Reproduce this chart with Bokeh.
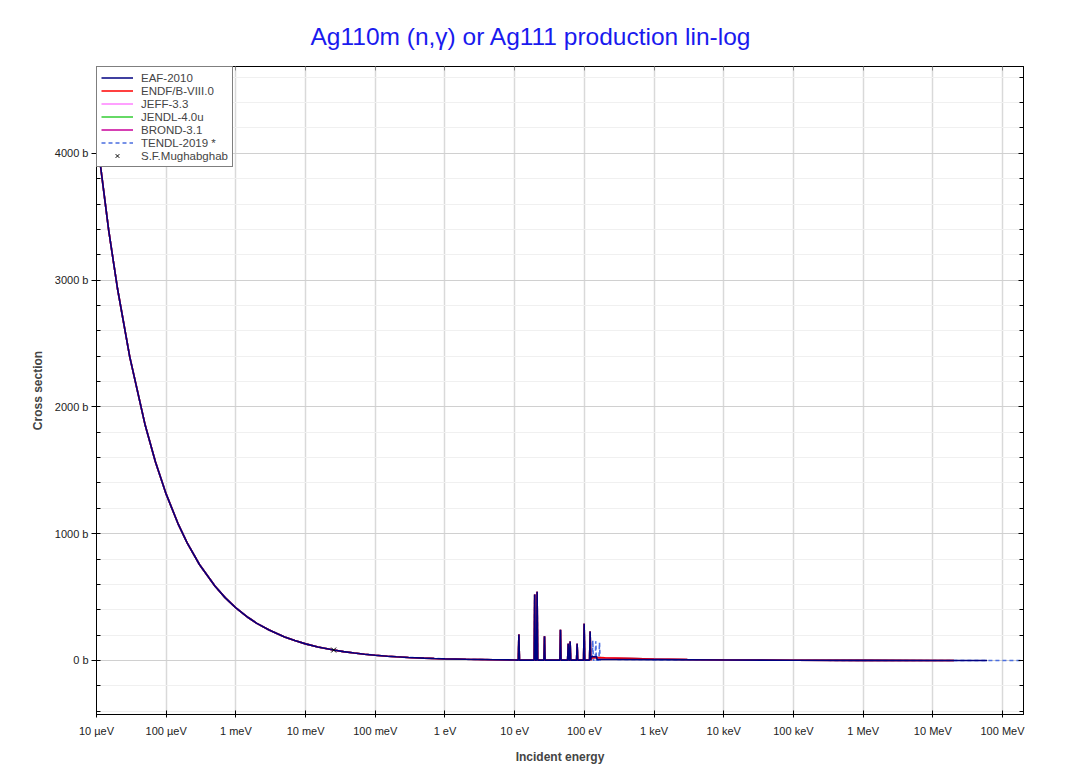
import numpy as np
from bokeh.plotting import figure
from bokeh.models import (FixedTicker, LogAxis, LinearAxis, Legend, LegendItem,
                          CustomJSTickFormatter, Range1d)
from bokeh.embed import file_html
from bokeh.resources import INLINE

# ---------------- data ----------------
# smooth 1/v region shared by all evaluations (energy in eV, cross section in b)
E_thermal = [1e-5, 1.5e-5, 2e-5, 3e-5, 5e-5, 7e-5, 1e-4, 1.5e-4, 2e-4, 3e-4, 5e-4, 7e-4,
             1e-3, 1.5e-3, 2e-3, 3e-3, 5e-3, 7e-3, 1e-2, 1.5e-2, 2.53e-2, 3.5e-2, 5e-2,
             7e-2, 0.1, 0.15, 0.2, 0.3, 0.5, 0.7, 1.0, 2.0, 5.0, 10.0]
xs_thermal = [4149, 3388, 2934, 2395, 1855, 1568, 1312, 1071, 928, 757, 587, 496,
              415, 339, 293, 240, 186, 157, 131, 107, 82.5, 70.1, 58.7,
              49.6, 41.5, 33.9, 29.3, 24.0, 18.6, 15.7, 13.1, 9.3, 5.9, 4.2]

# resolved resonances (energy eV, peak b)
res_E = [11.5, 19.4, 21.0, 26.8, 45.4, 58.6, 62.5, 78.8, 99.3, 121.0]
res_peak = [205, 520, 542, 192, 242, 132, 150, 132, 289, 229]
res_base = 3.0

# extra resonances in TENDL-2019
tendl_res_E = [132.0, 146.0, 165.0]
tendl_res_peak = [157, 152, 142]

# tails above the resolved region
E_eaf_tail = [125, 150, 152, 300, 1e3, 1e4, 1e5, 1e6, 1e7, 6e7]
xs_eaf_tail = [30, 30, 9, 8, 7, 4, 2, 0.6, 0.2, 0.1]

E_endf_tail = [130, 200, 500, 1e3, 3e3, 1e4, 3e4, 1e5, 1e6, 1e7, 2e7]
xs_endf_tail = [24, 21, 16, 12, 8, 5, 3.5, 2, 0.6, 0.2, 0.15]

E_tendl_tail = [175, 300, 1e3, 1e4, 1e5, 1e6, 1e7, 1e8, 2e8]
xs_tendl_tail = [10, 9, 7, 4, 2, 0.6, 0.2, 0.1, 0.1]

# S.F. Mughabghab thermal value
mugh_E = [0.0253]
mugh_xs = [82.5]

libs = ["EAF-2010", "ENDF/B-VIII.0", "JEFF-3.3", "JENDL-4.0u", "BROND-3.1", "TENDL-2019 *"]
colors = ["#000080", "#ff0000", "#ff80ff", "#33cc33", "#c8009a", "#4a6ee0"]

decade_labels = ["10 µeV", "100 µeV", "1 meV", "10 meV", "100 meV", "1 eV", "10 eV",
                 "100 eV", "1 keV", "10 keV", "100 keV", "1 MeV", "10 MeV", "100 MeV"]


def resonances(E, peaks, base, hw=0.008):
    xe, ye = [], []
    for e, pk in zip(E, peaks):
        xe += [e * 10 ** (-hw), e, e * 10 ** hw]
        ye += [base, pk, base]
    return xe, ye


rx, ry = resonances(res_E, res_peak, res_base)
tx, ty = resonances(tendl_res_E, tendl_res_peak, res_base)

curves = {
    "EAF-2010": (E_thermal + rx + E_eaf_tail, xs_thermal + ry + xs_eaf_tail),
    "ENDF/B-VIII.0": (E_thermal + rx + E_endf_tail, xs_thermal + ry + xs_endf_tail),
    "JEFF-3.3": (E_thermal + rx + E_endf_tail, xs_thermal + ry + xs_endf_tail),
    "JENDL-4.0u": (E_thermal + rx + E_endf_tail, xs_thermal + ry + xs_endf_tail),
    "BROND-3.1": (E_thermal + rx + E_endf_tail, xs_thermal + ry + xs_endf_tail),
    "TENDL-2019 *": (E_thermal + rx + tx + E_tendl_tail, xs_thermal + ry + ty + xs_tendl_tail),
}

# ---------------- figure ----------------
p = figure(width=1045, height=767, x_axis_type="log",
           x_range=Range1d(1e-5, 2e8), y_range=Range1d(-426, 4685),
           output_backend="svg", toolbar_location=None,
           min_border_left=96, min_border_right=22, min_border_top=66, min_border_bottom=53)

p.title.text = "Ag110m (n,γ) or Ag111 production lin-log"
p.title.align = "left"
p.title.offset = 214
p.title.text_font = "Liberation Sans"
p.title.text_font_style = "normal"
p.title.text_font_size = "24.5px"
p.title.text_color = "#1a1aee"
p.title.standoff = 34

p.outline_line_color = "black"
p.outline_line_width = 1

decades = [10.0 ** k for k in range(-5, 9)]
xt = FixedTicker(ticks=decades, minor_ticks=[])
yt = FixedTicker(ticks=[0, 1000, 2000, 3000, 4000],
                 minor_ticks=[-400, -200, 200, 400, 600, 800, 1200, 1400, 1600, 1800,
                              2200, 2400, 2600, 2800, 3200, 3400, 3600, 3800, 4200, 4400, 4600])

xfmt = CustomJSTickFormatter(args=dict(labels=decade_labels), code="""
    const k = Math.round(Math.log10(tick)) + 5;
    return (k >= 0 && k < labels.length) ? labels[k] : "";
""")
yfmt = CustomJSTickFormatter(code="return Math.round(tick) + ' b';")
blank = CustomJSTickFormatter(code="return '';")

xa = p.below[0]
xa.ticker = xt
xa.formatter = xfmt
xa.axis_label = "Incident energy"
ya = p.left[0]
ya.ticker = yt
ya.formatter = yfmt
ya.axis_label = "Cross section"

for ax in (xa, ya):
    ax.axis_label_text_font = "Liberation Sans"
    ax.axis_label_text_font_style = "bold"
    ax.axis_label_text_font_size = "12px"
    ax.major_label_text_font = "Liberation Sans"
    ax.major_label_text_font_size = "11px"
    ax.major_label_text_color = "#222222"
    ax.axis_line_color = "black"
    ax.major_tick_line_color = "black"
    ax.minor_tick_line_color = "black"
xa.major_tick_in = 4
xa.major_tick_out = 3
xa.major_label_standoff = 7
xa.axis_label_standoff = 10
ya.major_tick_in = 4
ya.major_tick_out = 5
ya.minor_tick_in = 4
ya.minor_tick_out = 0
ya.major_label_standoff = 3
ya.axis_label_standoff = 7

top = LogAxis(ticker=xt, formatter=blank, major_tick_in=4, major_tick_out=0,
              major_tick_line_color="#888888", axis_line_color="black",
              major_label_text_font_size="1px", major_label_standoff=0)
right = LinearAxis(ticker=yt, formatter=blank, major_tick_in=5, major_tick_out=0,
                   minor_tick_in=4, minor_tick_out=0, axis_line_color="black",
                   major_label_text_font_size="1px", major_label_standoff=0)
p.add_layout(top, "above")
p.add_layout(right, "right")

p.xgrid.ticker = xt
p.ygrid.ticker = yt
p.xgrid.grid_line_color = "#d9d9d9"
p.xgrid.grid_line_width = 1.5
p.ygrid.grid_line_color = "#d0d0d0"
p.ygrid.grid_line_width = 1
p.ygrid.minor_grid_line_color = "#f0f0f0"
p.ygrid.minor_grid_line_width = 1

renderers = {}
for name, col in reversed(list(zip(libs, colors))):
    xsE, xsV = curves[name]
    dash = "4 3" if name.startswith("TENDL") else "solid"
    renderers[name] = p.line(xsE, xsV, line_color=col, line_width=1.6, line_dash=dash)

mr = p.scatter(mugh_E, mugh_xs, marker="x", size=7, line_color="black", line_width=1)

items = [LegendItem(label=n, renderers=[renderers[n]]) for n in libs]
items.append(LegendItem(label="S.F.Mughabghab", renderers=[mr]))
legend = Legend(items=items, location="top_left", margin=0, padding=4, spacing=0,
                glyph_width=32, glyph_height=13, label_height=13, label_standoff=8,
                label_text_font="Liberation Sans", label_text_font_size="11.5px",
                border_line_color="black", border_line_width=1,
                background_fill_color="white", background_fill_alpha=1)
p.add_layout(legend, "center")

open("out.html", "w").write(file_html(p, INLINE))
